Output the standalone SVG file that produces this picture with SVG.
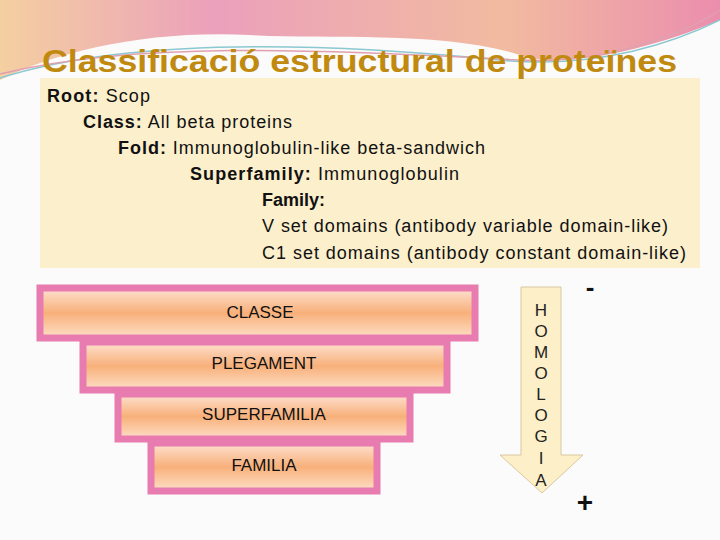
<svg xmlns="http://www.w3.org/2000/svg" width="720" height="540" viewBox="0 0 720 540">
<defs>
<linearGradient id="bar" x1="0" y1="0" x2="0" y2="1">
<stop offset="0" stop-color="#fde2d2"/><stop offset="0.5" stop-color="#f8b07a"/><stop offset="1" stop-color="#fde0c8"/>
</linearGradient>
<linearGradient id="top" x1="0" y1="0" x2="1" y2="0">
<stop offset="0" stop-color="#f3c890"/><stop offset="0.3" stop-color="#e890b0"/><stop offset="0.7" stop-color="#f0b090"/><stop offset="1" stop-color="#e87aa0"/>
</linearGradient>
<style>
.b{stroke:#e87bb0;stroke-width:7;fill:url(#bar)}
.l{font-family:"Liberation Sans",Arial,sans-serif;font-size:17px;fill:#111;text-anchor:middle}
.t{font-family:"Liberation Sans",Arial,sans-serif;font-size:18px;fill:#111}
.v{font-family:"Liberation Sans",Arial,sans-serif;font-size:17px;fill:#222;text-anchor:middle}
</style>
</defs>
<rect width="720" height="540" fill="#fbfbfb"/>
<path d="M0 0H720V20C650 50 560 70 520 55C440 30 330 40 250 35C150 30 60 50 0 80Z" fill="url(#top)" opacity="0.85"/>
<path d="M0 78C120 40 300 40 500 60C600 70 680 40 720 20" fill="none" stroke="#8cc8d0" stroke-width="1.5"/>
<path d="M0 74C140 40 320 50 520 60C610 65 690 30 720 10" fill="none" stroke="#e0a0b0" stroke-width="1.5"/>
<rect x="40" y="78" width="660" height="190" fill="#fcefcc"/>
<text x="42" y="72" font-family="Liberation Sans,Arial,sans-serif" font-weight="bold" font-size="32" fill="#c08a10" textLength="635" lengthAdjust="spacingAndGlyphs">Classificació estructural de proteïnes</text>
<g class="t">
<text x="47" y="102" textLength="103"><tspan font-weight="bold">Root:</tspan> Scop</text>
<text x="83" y="128" textLength="209"><tspan font-weight="bold">Class:</tspan> All beta proteins</text>
<text x="118" y="154" textLength="367"><tspan font-weight="bold">Fold:</tspan> Immunoglobulin-like beta-sandwich</text>
<text x="190" y="180" textLength="269"><tspan font-weight="bold">Superfamily:</tspan> Immunoglobulin</text>
<text x="262" y="206" font-weight="bold">Family:</text>
<text x="262" y="232" textLength="406">V set domains (antibody variable domain-like)</text>
<text x="262" y="259" textLength="424">C1 set domains (antibody constant domain-like)</text>
</g>
<g id="classe"><rect class="b" x="40" y="288" width="435" height="50"/><text class="l" x="260" y="318">CLASSE</text></g>
<g id="plegament"><rect class="b" x="83" y="342" width="364" height="48"/><text class="l" x="264" y="369">PLEGAMENT</text></g>
<g id="superfamilia"><rect class="b" x="118" y="394" width="292" height="45"/><text class="l" x="264" y="420">SUPERFAMILIA</text></g>
<g id="familia"><rect class="b" x="151" y="443" width="226" height="48"/><text class="l" x="264" y="471">FAMILIA</text></g>
<g id="arrow">
<path d="M521 287H561V455H583L542 493L500 455H521Z" fill="#fdefc8" stroke="#d8c8a0" stroke-width="1"/>
<g class="v"><text x="541" y="316">H</text><text x="541" y="337">O</text><text x="541" y="358">M</text><text x="541" y="379">O</text><text x="541" y="400">L</text><text x="541" y="421">O</text><text x="541" y="442">G</text><text x="541" y="464">I</text><text x="541" y="486">A</text></g>
</g>
<text x="590" y="296" font-family="Liberation Sans,Arial,sans-serif" font-size="26" font-weight="bold" text-anchor="middle" fill="#111">-</text>
<text x="585" y="512" font-family="Liberation Sans,Arial,sans-serif" font-size="28" font-weight="bold" text-anchor="middle" fill="#111">+</text>
</svg>
